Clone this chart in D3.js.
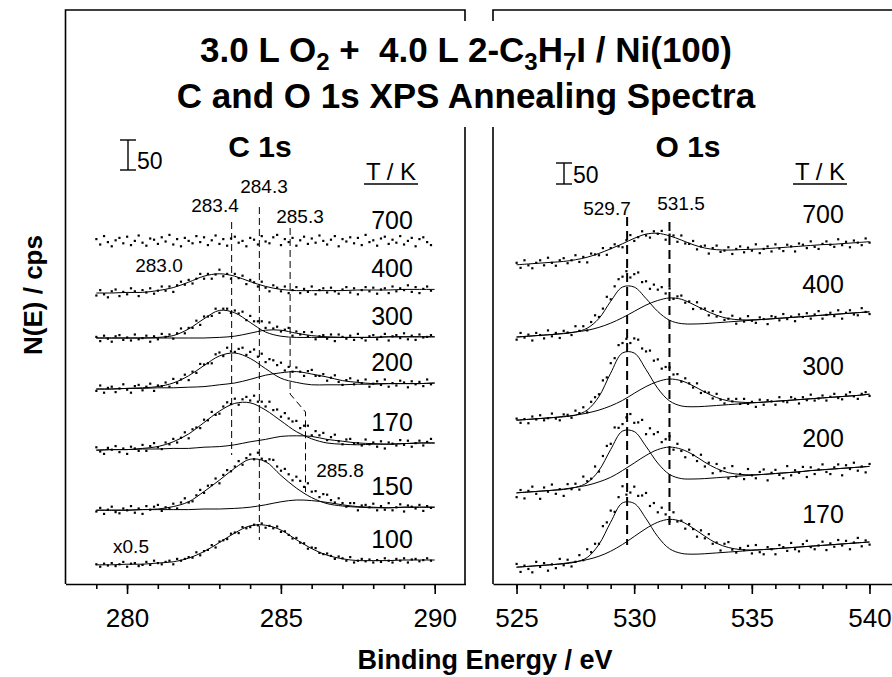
<!DOCTYPE html>
<html>
<head>
<meta charset="utf-8">
<script src="https://cdn.jsdelivr.net/npm/d3@7"></script>
<style>
  body { margin: 0; background: #fff; }
  svg text { font-family: "Liberation Sans", Arial, Helvetica, sans-serif; fill: #000; }
</style>
</head>
<body>
<script>
// ---------- data ----------
// C 1s panel: fit curves sampled every 0.5 eV, dots every 0.125 eV from 279.0
let cFitE = [279,279.5,280,280.5,281,281.5,282,282.5,283,283.5,284,284.5,285,285.5,286,286.5,287,287.5,288,288.5,289,289.5,290];
let cDotStart = 279, cDotStep = 0.125;
let cTemps = ["700", "400", "300", "200", "170", "150", "100"];
let cOffsets = [572, 485, 410, 325, 223, 123, 32];

let cFit400 = [0,0,1,1,4,9,18,28,32,28,19,11,6,4,4,4,4,5,5,5,6,6,6];
let cFit300a = [0,0,0,0,1,4,15,32,46,42,26,10,3,1,1,1,1,1,1,2,2,2,2];
let cFit300b = [0,0,0,0,0,0,0,0,1,3,8,13,13,8,4,2,1,1,1,2,2,2,2];
let cFit200a = [0,0,1,2,4,10,22,39,55,60,51,34,18,11,7,7,7,8,8,9,9,9,10];
let cFit200b = [0,0,1,1,2,2,3,4,7,10,16,23,27,29,25,20,14,11,9,9,9,9,10];
let cFit170a = [0,1,1,3,6,14,27,46,65,78,79,67,49,31,19,12,10,9,10,10,11,12,12];
let cFit170b = [0,1,1,2,2,3,3,5,6,9,14,18,23,24,23,18,15,12,11,10,11,12,12];
let cFit150a = [0,0,0,1,2,6,14,31,50,70,85,81,58,37,21,11,7,5,4,4,5,5,5];
let cFit150b = [0,0,0,1,1,1,1,2,2,3,5,9,14,17,16,13,9,6,5,4,5,5,5];
let cFit100 = [0,0,1,1,3,5,11,22,37,53,65,66,58,42,27,16,10,7,7,7,8,8,8];

let cDots700 = [3,-6,8,-2,-9,1,5,-4,7,-7,0,9,-3,-8,4,2,-5,6,-1,10,-6,3,-9,5,0,-4,8,-2,6,-7,1,9,-5,3,-8,4,7,-3,0,-9,5,2,-6,8,-1,-4,6,10,-7,3,-2,5,-8,1,7,-5,4,-3,9,0,-6,2,8,-9,3,-1,6,-4,5,-7,10,-2,1,-8,4,7,-5,2,-3,8,-6,0,5,-9,3,6,-2,-7];
let cDots400 = [-4,5,-2,-7,3,6,-5,2,-2,8,3,-5,5,1,8,-1,4,11,4,11,2,13,19,14,22,16,24,32,24,32,24,31,39,28,32,24,32,25,29,15,22,18,11,19,9,3,13,9,3,11,0,5,10,0,7,2,11,-2,5,8,1,9,3,-1,6,10,1,8,-2,5,10,3,9,-1,6,8,0,11,3,8,5,13,2,10,0,7,11,4];
let cDots300 = [2,-5,4,-1,-6,3,5,-3,1,-4,6,-2,0,4,-6,3,-2,7,2,6,-1,8,16,8,17,17,29,22,36,36,37,49,42,49,49,42,46,41,44,30,37,28,28,28,17,26,16,19,11,14,17,4,11,6,10,3,10,-2,3,5,-1,6,-5,6,2,-1,4,-3,7,0,-4,3,5,-2,2,7,-4,3,5,0,8,-2,4,-3,6,1,2,5];
let cDots200 = [-3,6,-6,2,4,-5,1,8,-1,-6,5,7,-2,4,9,-3,6,5,11,4,17,10,16,24,15,29,27,42,41,43,43,58,61,55,69,63,62,67,69,57,62,66,54,59,45,50,48,40,44,31,37,29,36,29,22,30,32,22,22,25,14,19,23,12,7,15,18,8,14,10,16,4,9,13,7,16,4,10,6,14,11,3,13,8,12,5,16,8];
let cDots170 = [5,-2,-6,4,1,7,-3,3,-6,6,3,-1,9,-1,7,12,5,2,13,10,19,13,21,30,20,35,38,37,51,50,64,59,61,73,80,77,86,76,85,89,83,91,81,81,73,81,67,68,56,62,53,48,49,37,41,41,25,32,25,29,17,22,26,15,10,18,19,11,12,8,18,10,13,6,15,3,13,11,8,17,9,16,6,12,16,8,14,19];
let cDots150 = [-2,4,-6,1,6,-3,-5,3,0,7,-4,3,-6,7,1,6,9,-1,5,3,11,3,13,20,13,15,25,34,29,41,42,53,45,59,67,65,73,82,76,87,93,85,96,86,82,85,84,73,66,69,60,50,56,49,39,45,31,32,22,27,26,17,13,20,12,6,12,12,0,8,9,5,11,0,7,1,12,0,5,10,-2,8,6,3,9,-1,7,4];
let cDots100 = [1,-3,2,-1,3,-2,1,5,-3,2,3,-2,0,5,0,7,3,1,5,7,1,10,7,10,13,12,21,16,23,25,33,29,39,41,43,52,54,53,63,61,63,67,66,69,62,65,61,64,55,56,50,44,45,37,36,27,29,28,20,18,19,15,10,14,11,7,13,4,7,10,6,9,4,8,5,11,7,4,10,7,11,4,9,10,6,8,11,7];

let cPeakLabels = ["283.4", "284.3", "285.3", "283.0", "285.8"];

// O 1s panel: fit curves every 0.5 eV, dots every 1/6 eV from 525.0
let oFitE = [525,525.5,526,526.5,527,527.5,528,528.5,529,529.5,530,530.5,531,531.5,532,532.5,533,533.5,534,534.5,535,535.5,536,536.5,537,537.5,538,538.5,539,539.5,540];
let oDotStart = 525, oDotStep = 1 / 6;
let oTemps = ["700", "400", "300", "200", "170"];
let oOffsets = [760, 588, 390, 217, 40];

let oFit700 = [0,2,4,6,8,12,18,27,38,50,63,73,75,69,59,48,40,36,35,36,37,38,40,42,44,46,48,49,51,53,55];
let oFit400a = [0,2,4,6,8,12,21,44,85,119,119,92,61,40,32,31,32,34,36,38,40,42,44,46,48,50,52,54,56,58,60];
let oFit400b = [0,2,4,6,9,12,16,23,33,46,61,76,87,93,90,78,64,52,44,41,41,42,44,46,48,50,52,54,56,58,60];
let oFit300a = [0,2,4,6,8,12,24,56,112,160,160,121,76,46,34,32,33,35,37,39,41,43,45,47,49,51,53,55,57,59,62];
let oFit300b = [0,2,4,6,9,12,17,24,34,47,64,80,92,98,94,82,67,54,46,43,42,43,45,47,49,51,53,55,57,59,62];
let oFit200a = [0,2,4,6,8,13,24,53,103,147,146,111,71,44,34,33,34,36,38,40,42,44,46,48,50,53,55,57,59,61,63];
let oFit200b = [0,2,4,6,9,13,18,26,37,53,71,89,103,109,104,91,73,58,48,44,43,44,46,48,50,53,55,57,59,61,63];
let oFit170a = [0,2,4,6,8,12,23,54,107,153,152,116,73,44,33,31,32,34,36,38,40,42,44,46,48,50,52,54,56,58,60];
let oFit170b = [0,2,4,6,9,13,18,26,38,54,73,92,107,114,109,93,74,57,47,42,41,42,44,46,48,50,52,54,56,58,60];

let oDots700 = [5,-7,11,-1,-8,5,11,-1,17,5,-2,11,16,4,11,23,7,19,6,27,25,23,40,24,40,49,44,42,59,71,57,66,80,70,65,80,74,81,60,72,70,55,70,51,50,57,37,44,46,27,40,46,31,34,42,26,38,44,30,41,34,49,28,38,44,32,49,39,33,48,44,32,51,48,40,56,43,38,50,56,48,43,61,47,55,42,58,53,47,63,53];
let oDots400 = [-6,10,-1,6,-8,10,5,-3,16,2,10,-2,15,11,5,26,15,26,16,36,52,48,68,96,90,121,138,144,157,142,150,154,131,133,115,125,113,119,104,116,91,97,99,82,85,67,83,68,68,52,62,49,60,41,44,51,32,44,37,50,39,34,47,43,31,50,48,40,55,43,49,38,54,48,57,44,54,62,44,53,58,50,64,44,58,64,54,52,69,60,55];
let oDots300 = [4,-6,3,-7,9,2,12,0,5,16,4,0,14,13,6,23,17,31,19,44,55,62,95,102,136,148,179,184,194,184,195,192,171,164,166,142,145,123,127,126,109,110,92,100,88,78,88,65,68,66,52,63,49,40,51,45,51,39,51,39,44,32,49,37,48,45,37,55,45,43,55,51,40,55,48,61,47,52,59,47,56,63,53,50,61,67,57,51,63,67,58];
let oDots200 = [-10,7,-13,5,15,-2,-14,13,3,20,-2,9,-7,21,9,22,8,39,28,34,63,51,88,112,117,156,155,164,180,188,167,168,174,140,154,140,145,121,128,135,103,117,100,85,103,90,76,91,63,72,47,69,52,59,35,64,39,45,33,57,42,35,50,56,30,48,55,43,35,64,42,54,48,62,38,61,45,56,68,50,45,61,68,42,66,57,72,53,63,49,69];
let oDots170 = [8,-11,4,-4,-12,13,1,10,-8,7,-2,20,5,18,2,13,29,17,43,36,56,56,98,107,135,132,167,193,173,178,192,170,171,177,146,153,131,142,126,109,131,109,111,92,103,91,73,88,69,79,56,59,40,56,60,42,35,46,41,51,33,53,36,31,48,43,31,53,48,39,58,43,38,55,63,48,43,52,61,41,57,49,65,52,63,43,59,70,50,64,54];

let oPeakLabels = ["529.7", "531.5"];
let cTicks = [280, 285, 290];
let oTicks = [525, 530, 535, 540];

// ---------- spectra tables ----------
let cSpectra = [
  { t: cTemps[0], off: cOffsets[0], dots: cDots700, fits: [] },
  { t: cTemps[1], off: cOffsets[1], dots: cDots400, fits: [cFit400] },
  { t: cTemps[2], off: cOffsets[2], dots: cDots300, fits: [cFit300a, cFit300b] },
  { t: cTemps[3], off: cOffsets[3], dots: cDots200, fits: [cFit200a, cFit200b] },
  { t: cTemps[4], off: cOffsets[4], dots: cDots170, fits: [cFit170a, cFit170b] },
  { t: cTemps[5], off: cOffsets[5], dots: cDots150, fits: [cFit150a, cFit150b] },
  { t: cTemps[6], off: cOffsets[6], dots: cDots100, fits: [cFit100] },
];
let oSpectra = [
  { t: oTemps[0], off: oOffsets[0], dots: oDots700, fits: [oFit700] },
  { t: oTemps[1], off: oOffsets[1], dots: oDots400, fits: [oFit400a, oFit400b] },
  { t: oTemps[2], off: oOffsets[2], dots: oDots300, fits: [oFit300a, oFit300b] },
  { t: oTemps[3], off: oOffsets[3], dots: oDots200, fits: [oFit200a, oFit200b] },
  { t: oTemps[4], off: oOffsets[4], dots: oDots170, fits: [oFit170a, oFit170b] },
];

// ---------- svg ----------
let w = 892, h = 677;
let yTop = 10, yBot = 584;

let svg = d3.select("body").append("svg")
  .attr("width", w)
  .attr("height", h);

let xC = d3.scaleLinear().domain([278, 291]).range([65.5, 465.5]);
let xO = d3.scaleLinear().domain([524, 541]).range([493, 893]);
let yC = d3.scaleLinear().domain([0, 950]).range([yBot, 14]);
let yO = d3.scaleLinear().domain([0, 1000]).range([yBot, 164]);

function drawPanel(spectra, x, y, fitE, dotStart, dotStep) {
  let g = svg.append("g");
  spectra.forEach((s) => {
    // fits
    s.fits.forEach((f) => {
      let line = d3.line()
        .x((d, i) => x(fitE[i]))
        .y((d) => y(s.off + d))
        .curve(d3.curveCatmullRom.alpha(0.5));
      g.append("path")
        .attr("d", line(f))
        .attr("fill", "none")
        .attr("stroke", "#000")
        .attr("stroke-width", 1);
    });
    // data points
    g.selectAll(null)
      .data(s.dots)
      .enter()
      .append("rect")
      .attr("x", (d, i) => x(dotStart + i * dotStep) - 1)
      .attr("y", (d) => y(s.off + d) - 1)
      .attr("width", 2.2)
      .attr("height", 2.2)
      .attr("fill", "#000");
  });
  return g;
}

drawPanel(cSpectra, xC, yC, cFitE, cDotStart, cDotStep);
drawPanel(oSpectra, xO, yO, oFitE, oDotStart, oDotStep);

// dashed guide lines
let guide = d3.line().x((d) => d[0]).y((d) => d[1]);
let guides = svg.append("g")
  .attr("fill", "none")
  .attr("stroke", "#000")
  .attr("stroke-width", 1)
  .attr("stroke-dasharray", "7,4");
guides.append("path").attr("d", guide([[xC(283.4), 222], [xC(283.4), 455]]));
guides.append("path").attr("d", guide([[xC(284.3), 207], [xC(284.3), 540]]));
guides.append("path").attr("d", guide([[xC(285.3), 228], [xC(285.3), 394], [xC(285.8), 412], [xC(285.8), 492]]));

let guidesO = svg.append("g")
  .attr("fill", "none")
  .attr("stroke", "#000")
  .attr("stroke-width", 2)
  .attr("stroke-dasharray", "9,5");
guidesO.append("path").attr("d", guide([[xO(529.7), 217], [xO(529.7), 545]]));
guidesO.append("path").attr("d", guide([[xO(531.5), 222], [xO(531.5), 528]]));

// frames
let frame = svg.append("g").attr("stroke", "#000").attr("stroke-width", 1.6).attr("fill", "none");
let xl = xC(278), xr = xC(291) - 0.5, ol = xO(524);
frame.append("path").attr("d", `M${xr},21V${yTop}H${xl}V${yBot}`);
frame.append("path").attr("d", `M${xr},127V${yBot}`);
frame.append("path").attr("d", `M${ol},21V${yTop}H${w + 2}`);
frame.append("path").attr("d", `M${ol},127V${yBot}`);

// axes
function drawAxis(x, lo, hi, major) {
  let minor = d3.range(lo, hi + 1);
  svg.append("g")
    .attr("transform", "translate(0," + yBot + ")")
    .call(d3.axisBottom(x).tickValues(minor).tickSize(5).tickSizeOuter(0).tickFormat(""))
    .call((g) => g.selectAll("path,line").attr("stroke-width", 1.6));
  let ax = svg.append("g")
    .attr("transform", "translate(0," + yBot + ")")
    .call(d3.axisBottom(x).tickValues(major).tickSize(10).tickSizeOuter(0).tickPadding(15));
  ax.select(".domain").remove();
  ax.selectAll("line").attr("stroke-width", 1.6);
  ax.selectAll("text")
    .attr("font-family", "Liberation Sans, Arial, sans-serif")
    .attr("font-size", 26);
}
drawAxis(xC, 279, 290, cTicks);
drawAxis(xO, 525, 540, oTicks);

// text helpers
function label(str, x, y, size, anchor, bold) {
  return svg.append("text")
    .attr("x", x).attr("y", y)
    .attr("font-size", size)
    .attr("text-anchor", anchor || "middle")
    .attr("font-weight", bold ? "bold" : "normal")
    .text(str);
}

// title
let t1 = svg.append("text")
  .attr("x", 466).attr("y", 62)
  .attr("text-anchor", "middle")
  .attr("font-size", 35)
  .attr("font-weight", "bold")
  .style("white-space", "pre");
t1.append("tspan").text("3.0 L O");
t1.append("tspan").attr("font-size", 24).attr("dy", 8).text("2");
t1.append("tspan").attr("dy", -8).text(" +  4.0 L 2-C");
t1.append("tspan").attr("font-size", 24).attr("dy", 8).text("3");
t1.append("tspan").attr("dy", -8).text("H");
t1.append("tspan").attr("font-size", 24).attr("dy", 8).text("7");
t1.append("tspan").attr("dy", -8).text("I / Ni(100)");
label("C and O 1s XPS Annealing Spectra", 466, 108, 35, "middle", true);

// panel titles
label("C 1s", 260, 157, 30, "middle", true);
label("O 1s", 688, 157, 30, "middle", true);

// axis titles
label("Binding Energy / eV", 485, 669, 27, "middle", true);
svg.append("text")
  .attr("transform", "translate(42,295) rotate(-90)")
  .attr("text-anchor", "middle")
  .attr("font-size", 26)
  .attr("font-weight", "bold")
  .text("N(E) / cps");

// scale bars (50 cps)
function scaleBar(x, y0, y, tx, ty) {
  let len = y(0) - y(50);
  let g = svg.append("g").attr("stroke", "#000").attr("stroke-width", 1.4);
  g.append("line").attr("x1", x).attr("x2", x).attr("y1", y0).attr("y2", y0 + len);
  g.append("line").attr("x1", x - 8).attr("x2", x + 8).attr("y1", y0).attr("y2", y0);
  g.append("line").attr("x1", x - 8).attr("x2", x + 8).attr("y1", y0 + len).attr("y2", y0 + len);
  label("50", tx, ty, 23, "start");
}
scaleBar(128, 140, yC, 137, 169);
scaleBar(564, 163, yO, 573, 183);

// T / K headers
function tk(cx) {
  label("T / K", cx, 180, 24);
  svg.append("line")
    .attr("x1", cx - 27).attr("x2", cx + 27)
    .attr("y1", 184).attr("y2", 184)
    .attr("stroke", "#000").attr("stroke-width", 1.5);
}
tk(391);
tk(820);

// temperature labels
cSpectra.forEach((s) => {
  let last = s.fits.length ? s.fits[0][s.fits[0].length - 1] : 0;
  label(s.t, 392, yC(s.off + last) - 12, 25);
});
oSpectra.forEach((s) => {
  let last = s.fits[0][s.fits[0].length - 1];
  label(s.t, 823, yO(s.off + last) - 19, 25);
});

// peak position labels
label(cPeakLabels[0], 215, 212, 19);
label(cPeakLabels[1], 264, 193, 19);
label(cPeakLabels[2], 300, 223, 19);
label(cPeakLabels[3], 159, 272, 19);
label(cPeakLabels[4], 340, 477, 19);
label("x0.5", 131, 553, 19);
label(oPeakLabels[0], 607, 215, 19);
label(oPeakLabels[1], 681, 210, 19);
</script>
</body>
</html>
